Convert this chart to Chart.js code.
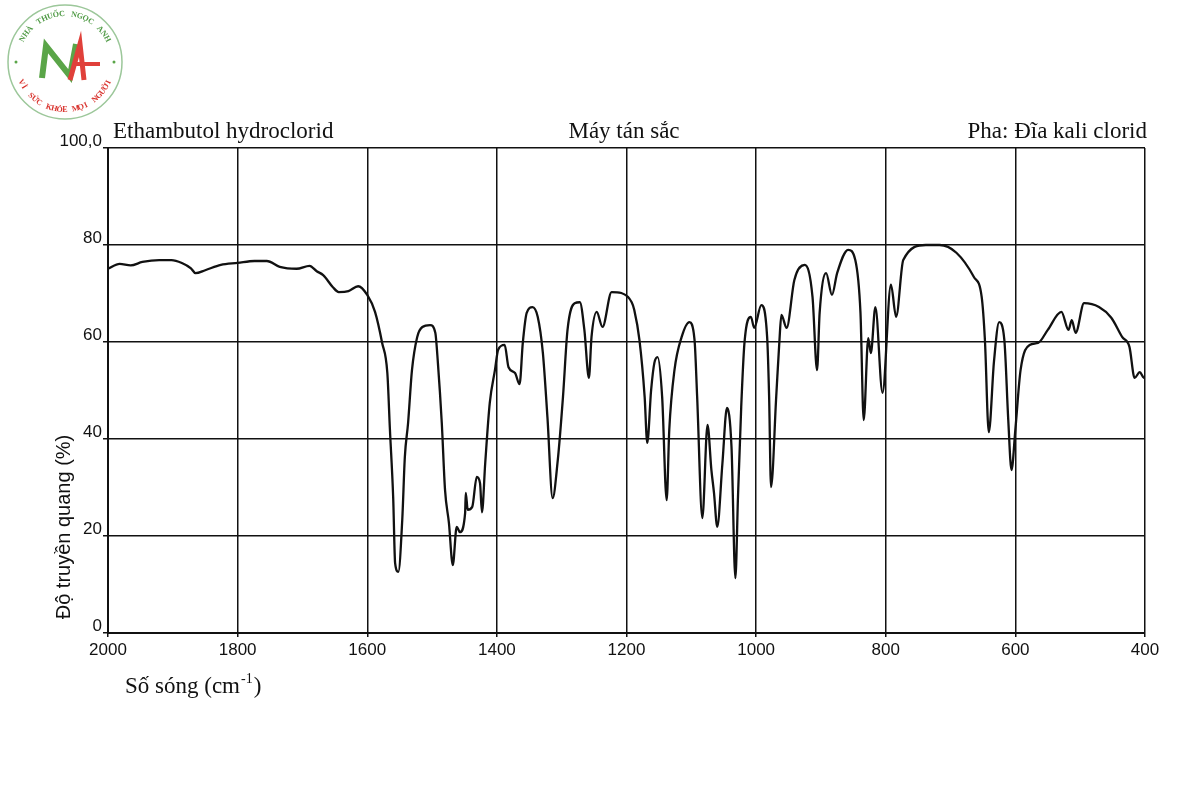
<!DOCTYPE html>
<html>
<head>
<meta charset="utf-8">
<script src="https://cdn.jsdelivr.net/npm/chart.js@4.4.1/dist/chart.umd.min.js"></script>
<style>
  html, body { margin: 0; padding: 0; background: #fff; }
  canvas { display: block; }
</style>
</head>
<body>
<canvas id="chart" width="1200" height="800"></canvas>
<script>
// wavenumber (cm-1) and transmittance (%)
const wavenumbers = [
  2000, 1982, 1965, 1947, 1921, 1902, 1886, 1872, 1865, 1850, 1826, 1800, 1774, 1755, 1735, 1709,
  1689, 1678, 1668, 1653, 1644, 1629, 1614, 1600, 1588, 1577, 1569, 1565, 1560, 1557, 1552, 1546,
  1542, 1537, 1531, 1523, 1515, 1503, 1495, 1491, 1485, 1480, 1474, 1468, 1462, 1457, 1449, 1448,
  1445, 1438, 1431, 1426, 1423, 1418, 1411, 1403, 1398, 1388, 1382, 1372, 1365, 1360, 1354, 1345,
  1337, 1329, 1322, 1314, 1306, 1298, 1291, 1280, 1272, 1265, 1258, 1254, 1246, 1237, 1223, 1208,
  1192, 1188, 1180, 1172, 1168, 1162, 1157, 1152, 1145, 1138, 1134, 1126, 1115, 1103, 1095, 1091,
  1083, 1075, 1069, 1065, 1060, 1052, 1045, 1038, 1032, 1028, 1023, 1018, 1008, 1003, 992, 983,
  980, 977, 969, 964, 961, 953, 941, 925, 913, 906, 902, 892, 883, 875, 858, 847,
  839, 834, 827, 823, 816, 805, 792, 784, 773, 738, 717, 691, 664, 652, 647, 641,
  633, 625, 617, 611, 606, 600, 592, 578, 565, 550, 529, 518, 513, 507, 494, 471,
  452, 435, 424, 416, 408, 403, 400
];
const transmittance = [
  75.1, 76.1, 75.8, 76.5, 76.9, 76.9, 76.3, 75.2, 74.2, 74.8, 75.9, 76.3, 76.7, 76.7, 75.5, 75.1,
  75.7, 74.6, 73.8, 71.3, 70.3, 70.5, 71.5, 69.7, 66.2, 59.8, 53.6, 41.9, 28.0, 14.4, 12.6, 23.3,
  36.3, 43.3, 54.2, 61.0, 63.1, 63.5, 61.9, 55.7, 43.3, 29.5, 22.7, 14.0, 21.9, 20.8, 24.7, 28.9,
  25.4, 26.0, 32.2, 30.9, 24.9, 35.0, 47.4, 54.2, 58.4, 59.4, 54.8, 53.6, 51.3, 59.8, 66.0, 67.2,
  65.2, 57.7, 44.5, 27.8, 35.7, 48.7, 62.5, 68.0, 68.2, 62.5, 52.6, 61.0, 66.2, 63.1, 70.3, 70.1,
  68.2, 66.6, 60.4, 48.7, 39.2, 50.1, 55.7, 56.9, 48.7, 27.4, 41.9, 54.2, 61.0, 64.1, 60.4, 48.7,
  23.7, 42.9, 33.6, 28.9, 21.9, 35.0, 46.4, 38.4, 11.3, 28.0, 46.6, 59.8, 65.2, 62.9, 67.6, 61.0,
  49.0, 30.1, 48.7, 60.4, 65.6, 62.9, 72.8, 75.9, 69.3, 54.2, 66.0, 74.2, 69.7, 74.2, 79.0, 76.9,
  66.0, 43.9, 60.8, 57.7, 67.2, 49.5, 71.8, 65.2, 76.9, 80.0, 80.0, 78.4, 73.4, 69.3, 60.4, 41.4,
  56.0, 64.1, 60.4, 44.0, 33.6, 42.0, 54.2, 59.4, 59.8, 62.5, 66.2, 62.5, 64.5, 61.9, 68.0, 67.2,
  65.0, 61.0, 59.0, 52.6, 53.8, 52.8, 52.5
];
const xTicks = [2000, 1800, 1600, 1400, 1200, 1000, 800, 600, 400];
const yTicks = [0, 20, 40, 60, 80, 100];

const headerLeft = 'Ethambutol hydroclorid';
const headerMid = 'Máy tán sắc';
const headerRight = 'Pha: Đĩa kali clorid';
const yTitle = 'Độ truyền quang (%)';

const points = wavenumbers.map((w, i) => ({ x: w, y: transmittance[i] }));

// headers, axis titles and the little logo
const extras = {
  id: 'extras',
  afterDraw(chart) {
    const c = chart.ctx;
    c.save();
    c.fillStyle = '#111';
    c.font = '23px "Liberation Serif", serif';
    c.textBaseline = 'alphabetic';
    c.textAlign = 'left';
    c.fillText(headerLeft, 113, 138);
    c.textAlign = 'center';
    c.fillText(headerMid, 624, 138);
    c.textAlign = 'right';
    c.fillText(headerRight, 1147, 138);

    // x title with superscript
    c.textAlign = 'left';
    c.font = '23px "Liberation Serif", serif';
    let t = 'Số sóng (cm';
    c.fillText(t, 125, 693);
    let w = c.measureText(t).width;
    c.font = '14px "Liberation Serif", serif';
    c.fillText('-1', 125 + w + 1, 683);
    let w2 = c.measureText('-1').width;
    c.font = '23px "Liberation Serif", serif';
    c.fillText(')', 125 + w + w2 + 2, 693);

    // y title
    c.translate(70, 527);
    c.rotate(-Math.PI / 2);
    c.textAlign = 'center';
    c.font = '20px "Liberation Sans", Arial, sans-serif';
    c.fillText(yTitle, 0, 0);
    c.restore();

    // logo
    c.save();
    const cx = 65, cy = 62, r = 57;
    c.strokeStyle = '#9cc79a';
    c.lineWidth = 1.5;
    c.beginPath();
    c.arc(cx, cy, r, 0, Math.PI * 2);
    c.stroke();
    c.strokeStyle = '#5aa548';
    c.lineWidth = 6;
    c.beginPath();
    c.moveTo(42, 78); c.lineTo(46, 46); c.lineTo(70, 76); c.lineTo(76, 44);
    c.stroke();
    c.strokeStyle = '#e0403a';
    c.lineWidth = 5;
    c.beginPath();
    c.moveTo(70, 80); c.lineTo(80, 44); c.lineTo(84, 80);
    c.stroke();
    c.lineWidth = 4;
    c.beginPath();
    c.moveTo(74, 64); c.lineTo(100, 64);
    c.stroke();
    c.fillStyle = '#5aa548';
    c.beginPath(); c.arc(cx - r + 8, cy, 1.5, 0, Math.PI * 2); c.fill();
    c.beginPath(); c.arc(cx + r - 8, cy, 1.5, 0, Math.PI * 2); c.fill();
    arcText(c, 'NHÀ THUỐC NGỌC ANH', cx, cy, r - 9, -Math.PI * 0.86, -Math.PI * 0.14, true, '#4f9a45');
    arcText(c, 'VÌ SỨC KHỎE MỌI NGƯỜI', cx, cy, r - 9, Math.PI * 0.88, Math.PI * 0.12, false, '#d9332e');
    c.restore();
  }
};

function arcText(c, text, cx, cy, r, a0, a1, top, color) {
  c.save();
  c.fillStyle = color;
  c.font = 'bold 8px "Liberation Serif", serif';
  c.textAlign = 'center';
  c.textBaseline = 'middle';
  const n = text.length;
  for (let i = 0; i < n; i++) {
    const a = a0 + (a1 - a0) * (i + 0.5) / n;
    c.save();
    c.translate(cx + r * Math.cos(a), cy + r * Math.sin(a));
    c.rotate(top ? a + Math.PI / 2 : a - Math.PI / 2);
    c.fillText(text[i], 0, 0);
    c.restore();
  }
  c.restore();
}

new Chart(document.getElementById('chart'), {
  type: 'line',
  data: {
    datasets: [{
      data: points,
      borderColor: '#111',
      borderWidth: 2.3,
      pointRadius: 0,
      cubicInterpolationMode: 'monotone',
      fill: false
    }]
  },
  options: {
    responsive: false,
    animation: false,
    events: [],
    layout: { padding: { top: 148, right: 55, left: 0, bottom: 0 } },
    plugins: { legend: { display: false }, tooltip: { enabled: false } },
    scales: {
      x: {
        type: 'linear',
        reverse: true,
        min: 400,
        max: 2000,
        afterFit(s) { s.height = 167; },
        afterBuildTicks(s) { s.ticks = xTicks.map(v => ({ value: v })); },
        grid: { color: '#111', lineWidth: 1.5, drawTicks: true, tickLength: 4 },
        border: { color: '#111', width: 2 },
        ticks: {
          color: '#111',
          font: { family: '"Liberation Sans", Arial, sans-serif', size: 17 },
          padding: 3,
          maxRotation: 0,
          callback: v => String(v)
        }
      },
      y: {
        min: 0,
        max: 100,
        afterFit(s) { s.width = 108; },
        afterBuildTicks(s) { s.ticks = yTicks.map(v => ({ value: v })); },
        grid: { color: '#111', lineWidth: 1.5, tickLength: 5 },
        border: { color: '#111', width: 2 },
        ticks: {
          color: '#111',
          font: { family: '"Liberation Sans", Arial, sans-serif', size: 17 },
          padding: 1,
          labelOffset: -7,
          callback: v => v === 100 ? '100,0' : String(v)
        }
      }
    }
  },
  plugins: [extras]
});
</script>
</body>
</html>
